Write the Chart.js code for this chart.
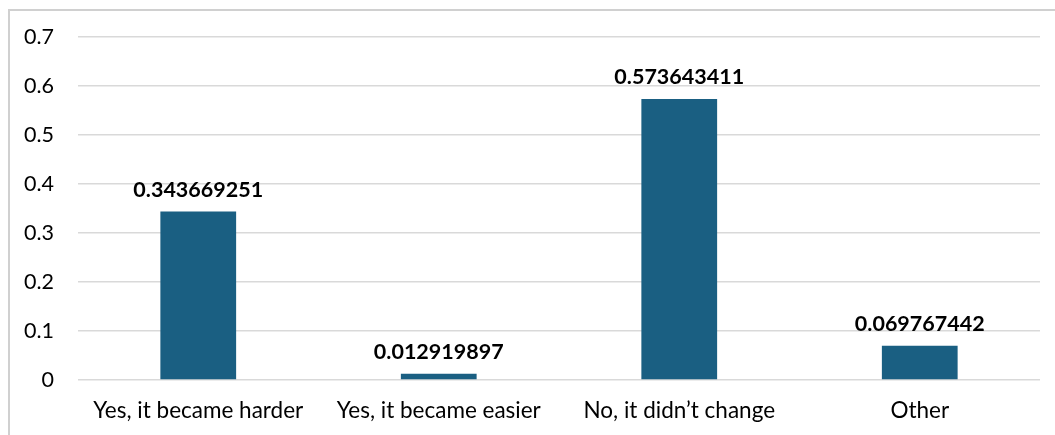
<!DOCTYPE html>
<html>
<head>
<meta charset="utf-8">
<script src="https://cdn.jsdelivr.net/npm/chart.js@4"></script>
<style>
  html, body { margin: 0; padding: 0; background: #ffffff; }
  #wrap { position: relative; width: 1055px; height: 435px; }
</style>
</head>
<body>
<div id="wrap"><canvas id="chart" width="1055" height="435"></canvas></div>
<script>
const categories = ["Yes, it became harder", "Yes, it became easier", "No, it didn\u2019t change", "Other"];
const shares = [0.343669251, 0.012919897, 0.573643411, 0.069767442];
const yTicks = [0, 0.1, 0.2, 0.3, 0.4, 0.5, 0.6, 0.7];

const FONT = "Lato, 'Open Sans', sans-serif";

// Frame line along the top and left edges of the chart
const framePlugin = {
  id: 'frame',
  beforeDraw(chart) {
    const ctx = chart.ctx;
    ctx.save();
    ctx.strokeStyle = '#d0d0d0';
    ctx.lineWidth = 2;
    ctx.beginPath();
    ctx.moveTo(9, 435);
    ctx.lineTo(9, 10);
    ctx.lineTo(1055, 10);
    ctx.stroke();
    ctx.restore();
  }
};

// Value labels above each bar
const valueLabels = {
  id: 'valueLabels',
  afterDatasetsDraw(chart) {
    const ctx = chart.ctx;
    const meta = chart.getDatasetMeta(0);
    ctx.save();
    ctx.font = "bold 21.5px " + FONT;
    ctx.fillStyle = '#000000';
    ctx.textAlign = 'center';
    ctx.textBaseline = 'alphabetic';
    meta.data.forEach((bar, i) => {
      ctx.fillText(String(shares[i]), bar.x, bar.y - 15);
    });
    ctx.restore();
  }
};

new Chart(document.getElementById('chart'), {
  type: 'bar',
  data: {
    labels: categories,
    datasets: [{
      data: shares,
      backgroundColor: '#1a5f82',
      categoryPercentage: 1,
      barPercentage: 0.315
    }]
  },
  options: {
    responsive: false,
    animation: false,
    layout: { padding: { top: 37, right: 15, bottom: 0, left: 0 } },
    plugins: { legend: { display: false }, tooltip: { enabled: false } },
    scales: {
      x: {
        grid: { display: false, drawTicks: false },
        border: { display: false },
        ticks: { color: '#000000', font: { family: FONT, size: 22.5 }, padding: 17, maxRotation: 0 },
        afterFit(scale) { scale.height = 55; }
      },
      y: {
        min: 0,
        max: 0.7,
        afterBuildTicks(scale) { scale.ticks = yTicks.map(v => ({ value: v })); },
        grid: { color: '#d9d9d9', lineWidth: 1.5, drawTicks: false },
        border: { display: false },
        ticks: {
          color: '#000000',
          font: { family: FONT, size: 21.5 },
          padding: 24,
          callback: v => String(Math.round(v * 10) / 10)
        },
        afterFit(scale) { scale.width = 78; }
      }
    }
  },
  plugins: [framePlugin, valueLabels]
});
</script>
</body>
</html>
